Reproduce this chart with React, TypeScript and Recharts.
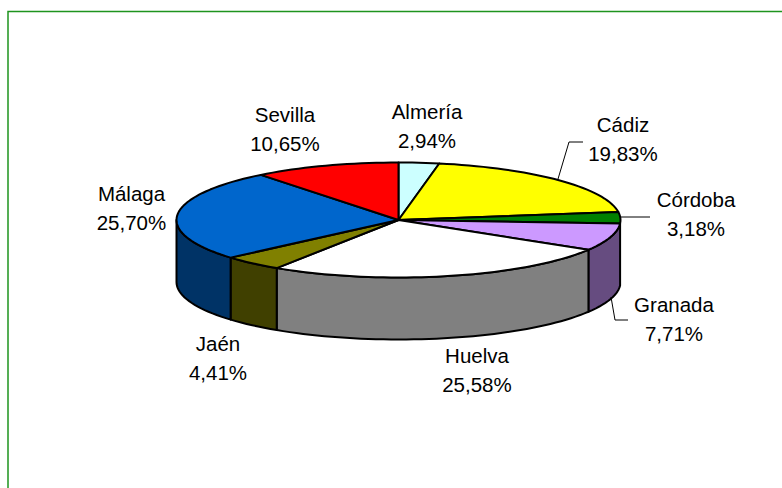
import React from "react";
import { PieChart, Pie } from "recharts";

const provinces = ["Almería", "Cádiz", "Córdoba", "Granada", "Huelva", "Jaén", "Málaga", "Sevilla"];
const shares = [2.94, 19.83, 3.18, 7.71, 25.58, 4.41, 25.7, 10.65];
const topColors = ["#CCFFFF", "#FFFF00", "#008000", "#CC99FF", "#FFFFFF", "#808000", "#0066CC", "#FF0000"];
const sideColors = ["#668080", "#808000", "#004000", "#664C80", "#808080", "#404000", "#003366", "#800000"];

const W = 782, H = 488;
const CX = 398.5, CY = 220, RX = 222, RY = 57.5, DEPTH = 62;
const FONT = "'Liberation Sans', Arial, sans-serif";

// label layout: centre x, centre y of the first text line
const labelAnchors: Record<string, [number, number]> = {
  "Almería": [427, 111], "Cádiz": [623, 124], "Córdoba": [696, 199], "Granada": [674, 304],
  "Huelva": [477, 355], "Jaén": [218, 343], "Málaga": [131.5, 193], "Sevilla": [285, 114],
};
const leaders: Record<string, string> = {
  "Cádiz": "558,179 569,142 583,142",
  "Córdoba": "620,217 650,217",
  "Granada": "611,297 615,320 628,320",
};

const data = provinces.map((name, i) => ({ name, value: shares[i], top: topColors[i], side: sideColors[i] }));

const pt = (deg: number, dy = 0) => {
  const r = (deg * Math.PI) / 180;
  return [CX + RX * Math.cos(r), CY - RY * Math.sin(r) + dy];
};
// elliptical arc between two recharts angles, going clockwise
const arcPath = (a: number, b: number, dy: number) => {
  const steps = Math.max(2, Math.ceil(Math.abs(a - b) / 2));
  const out: string[] = [];
  for (let i = 0; i <= steps; i++) {
    const [x, y] = pt(a + ((b - a) * i) / steps, dy);
    out.push(`${x.toFixed(2)} ${y.toFixed(2)}`);
  }
  return out;
};

const TopShape = (p: any) => {
  const pts = arcPath(p.startAngle, p.endAngle, 0);
  return <path d={`M${CX} ${CY}L${pts.join("L")}Z`} fill={p.top ?? p.payload?.top} stroke="#000" strokeWidth={2} strokeLinejoin="round" />;
};

const SideShape = (p: any) => {
  // the front wall is the part of the rim in the lower half (-180..0 degrees)
  let a = p.startAngle, b = p.endAngle;
  while (a > 0) { a -= 360; b -= 360; }
  const s = Math.min(a, 0), e = Math.max(b, -180);
  if (s <= e) return <g />;
  const upper = arcPath(s, e, 0);
  const lower = arcPath(e, s, DEPTH);
  return <path d={`M${upper.join("L")}L${lower.join("L")}Z`} fill={p.side ?? p.payload?.side} stroke="#000" strokeWidth={2} strokeLinejoin="round" />;
};

const renderLabel = (p: any) => {
  const name = p.name ?? p.payload?.name;
  const [x, y] = labelAnchors[name];
  const style = { fontFamily: FONT, fontSize: 20.5, fill: "#000" };
  return (
    <g>
      {leaders[name] && <polyline points={leaders[name]} fill="none" stroke="#000" strokeWidth={1} />}
      <text x={x} y={y} textAnchor="middle" dominantBaseline="central" style={style}>{name}</text>
      <text x={x} y={y + 29.5} textAnchor="middle" dominantBaseline="central" style={style}>
        {Number(p.value).toFixed(2).replace(".", ",")}%
      </text>
    </g>
  );
};

export default function App() {
  return (
    <div style={{ position: "fixed", left: 0, top: 0, width: W, height: H, background: "#fff", overflow: "hidden" }}>
      <svg width={W} height={H} style={{ position: "absolute", left: 0, top: 0 }}>
        <polyline points={`8,${H} 8,11.5 ${W},11.5`} fill="none" stroke="#1E941E" strokeWidth={1.5} />
      </svg>
      <div style={{ position: "absolute", left: 0, top: 0 }}>
        <PieChart width={W} height={H} margin={{ top: 0, right: 0, bottom: 0, left: 0 }}>
          <Pie data={data} dataKey="value" nameKey="name" cx={CX} cy={CY} outerRadius={RX} startAngle={90} endAngle={-270}
            isAnimationActive={false} shape={SideShape} label={false} labelLine={false} />
          <Pie data={data} dataKey="value" nameKey="name" cx={CX} cy={CY} outerRadius={RX} startAngle={90} endAngle={-270}
            isAnimationActive={false} shape={TopShape} label={renderLabel} labelLine={false} />
        </PieChart>
      </div>
    </div>
  );
}
